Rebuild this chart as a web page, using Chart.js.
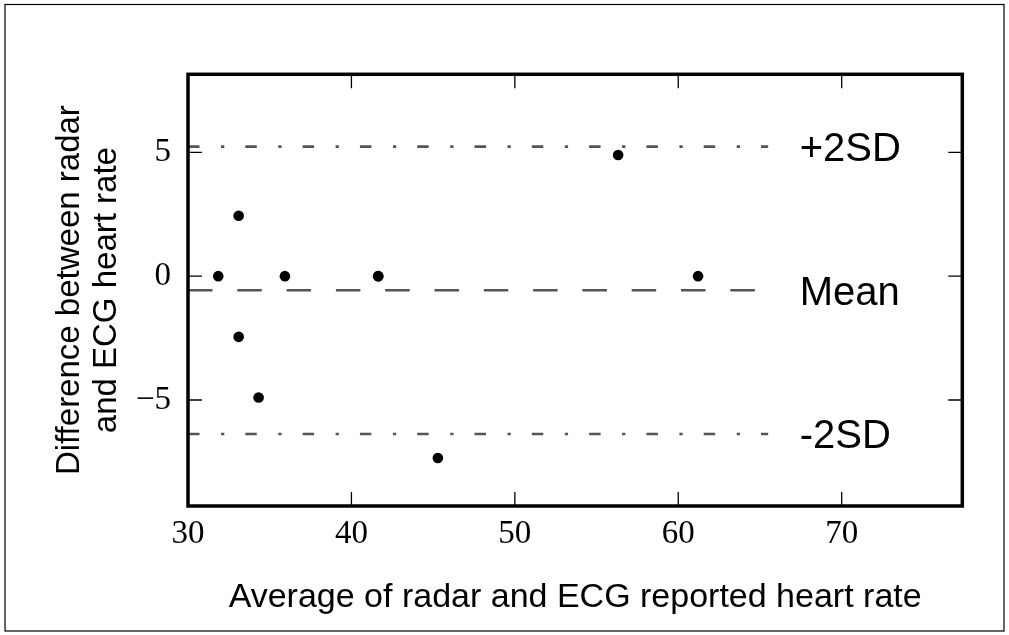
<!DOCTYPE html>
<html><head><meta charset="utf-8">
<script src="https://cdn.jsdelivr.net/npm/chart.js@4.4.0/dist/chart.umd.min.js"></script>
<style>html,body{margin:0;padding:0;background:#fff;}#wrap{position:relative;width:1009px;height:635px;}</style>
</head><body><div id="wrap"><canvas id="c" width="1009" height="635"></canvas></div>
<script>
// ---- data ----
const avgHeartRate  = [31.85, 33.1, 33.1, 34.32, 35.93, 41.64, 41.64, 45.29, 56.32, 61.21];
const diffHeartRate = [0, 2.44, -2.45, -4.9, 0, 0, 0, -7.34, 4.89, 0];
const meanDiff = -0.57;
const upperLimit = 5.23;
const lowerLimit = -6.37;
const limitLineX = [30, 65.5];
const xTicks = [30, 40, 50, 60, 70];
const yTicks = [-5, 0, 5];
const limitLabels = ['+2SD', 'Mean', '-2SD'];
const limitValues = [upperLimit, meanDiff, lowerLimit];
const limitLabelX = 67.43;
const xTitle = 'Average of radar and ECG reported heart rate';
const yTitle = ['Difference between radar', 'and ECG heart rate'];

const points = avgHeartRate.map((x, i) => ({x: x, y: diffHeartRate[i]}));
const lineData = v => limitLineX.map(x => ({x: x, y: v}));

const framePlugin = {
  id: 'frame',
  afterDraw(chart) {
    const ctx = chart.ctx, a = chart.chartArea;
    const xs = chart.scales.x, ys = chart.scales.y;
    ctx.save();
    // outer figure border
    ctx.strokeStyle = '#000'; ctx.lineWidth = 1.2;
    ctx.strokeRect(5, 4.5, 999, 626.5);
    // inward ticks
    ctx.lineWidth = 1.3;
    ctx.beginPath();
    xTicks.forEach(v => {
      const px = xs.getPixelForValue(v);
      ctx.moveTo(px, a.bottom); ctx.lineTo(px, a.bottom - 14);
      ctx.moveTo(px, a.top); ctx.lineTo(px, a.top + 14);
    });
    yTicks.forEach(v => {
      const py = ys.getPixelForValue(v);
      ctx.moveTo(a.left, py); ctx.lineTo(a.left + 14, py);
      ctx.moveTo(a.right, py); ctx.lineTo(a.right - 14, py);
    });
    ctx.stroke();
    // axes frame
    ctx.lineWidth = 3.5;
    ctx.strokeRect(a.left, a.top, a.right - a.left, a.bottom - a.top);
    // limit labels
    ctx.fillStyle = '#000';
    ctx.font = '40px "Liberation Sans", Arial, sans-serif';
    ctx.textAlign = 'left'; ctx.textBaseline = 'alphabetic';
    limitLabels.forEach((t, i) => {
      ctx.fillText(t, xs.getPixelForValue(limitLabelX), ys.getPixelForValue(limitValues[i]) + 14.5);
    });
    ctx.restore();
  }
};

new Chart(document.getElementById('c'), {
  type: 'scatter',
  data: {
    datasets: [
      {type: 'line', data: lineData(upperLimit), borderColor: '#555', borderWidth: 2.6, borderDash: [11.5, 21.5, 3.3, 21], pointRadius: 0, fill: false},
      {type: 'line', data: lineData(meanDiff), borderColor: '#555', borderWidth: 2.6, borderDash: [24.5, 24.8], pointRadius: 0, fill: false},
      {type: 'line', data: lineData(lowerLimit), borderColor: '#555', borderWidth: 2.6, borderDash: [11.5, 21.5, 3.3, 21], pointRadius: 0, fill: false},
      {data: points, backgroundColor: '#000', borderWidth: 0, pointRadius: 5.3, pointHoverRadius: 5.3}
    ]
  },
  options: {
    responsive: false, animation: false, devicePixelRatio: 1,
    layout: {padding: {left: 0, right: 46.7, top: 74.3, bottom: 0}},
    plugins: {legend: {display: false}, tooltip: {enabled: false}},
    scales: {
      x: {
        type: 'linear', min: 30, max: 77.38,
        afterBuildTicks: s => { s.ticks = xTicks.map(v => ({value: v})); },
        afterFit: s => { s.height = 129; },
        grid: {display: false, drawTicks: false}, border: {display: false},
        ticks: {color: '#000', padding: 9, maxRotation: 0, font: {family: '"Liberation Serif", serif', size: 33, lineHeight: 1.2}},
        title: {display: true, text: xTitle, color: '#000', padding: {top: 0, bottom: 18.1}, font: {family: '"Liberation Sans", Arial, sans-serif', size: 34, lineHeight: 1.11}}
      },
      y: {
        type: 'linear', min: -9.28, max: 8.15,
        afterBuildTicks: s => { s.ticks = yTicks.map(v => ({value: v})); },
        afterFit: s => { s.width = 188; },
        grid: {display: false, drawTicks: false}, border: {display: false},
        ticks: {color: '#000', padding: 17, callback: v => v < 0 ? '\u2212' + Math.abs(v) : String(v), font: {family: '"Liberation Serif", serif', size: 33, lineHeight: 1.2}},
        title: {display: true, text: yTitle, color: '#000', padding: {top: 51.7, bottom: 0}, font: {family: '"Liberation Sans", Arial, sans-serif', size: 33, lineHeight: 1.11}}
      }
    }
  },
  plugins: [framePlugin]
});
</script></body></html>
